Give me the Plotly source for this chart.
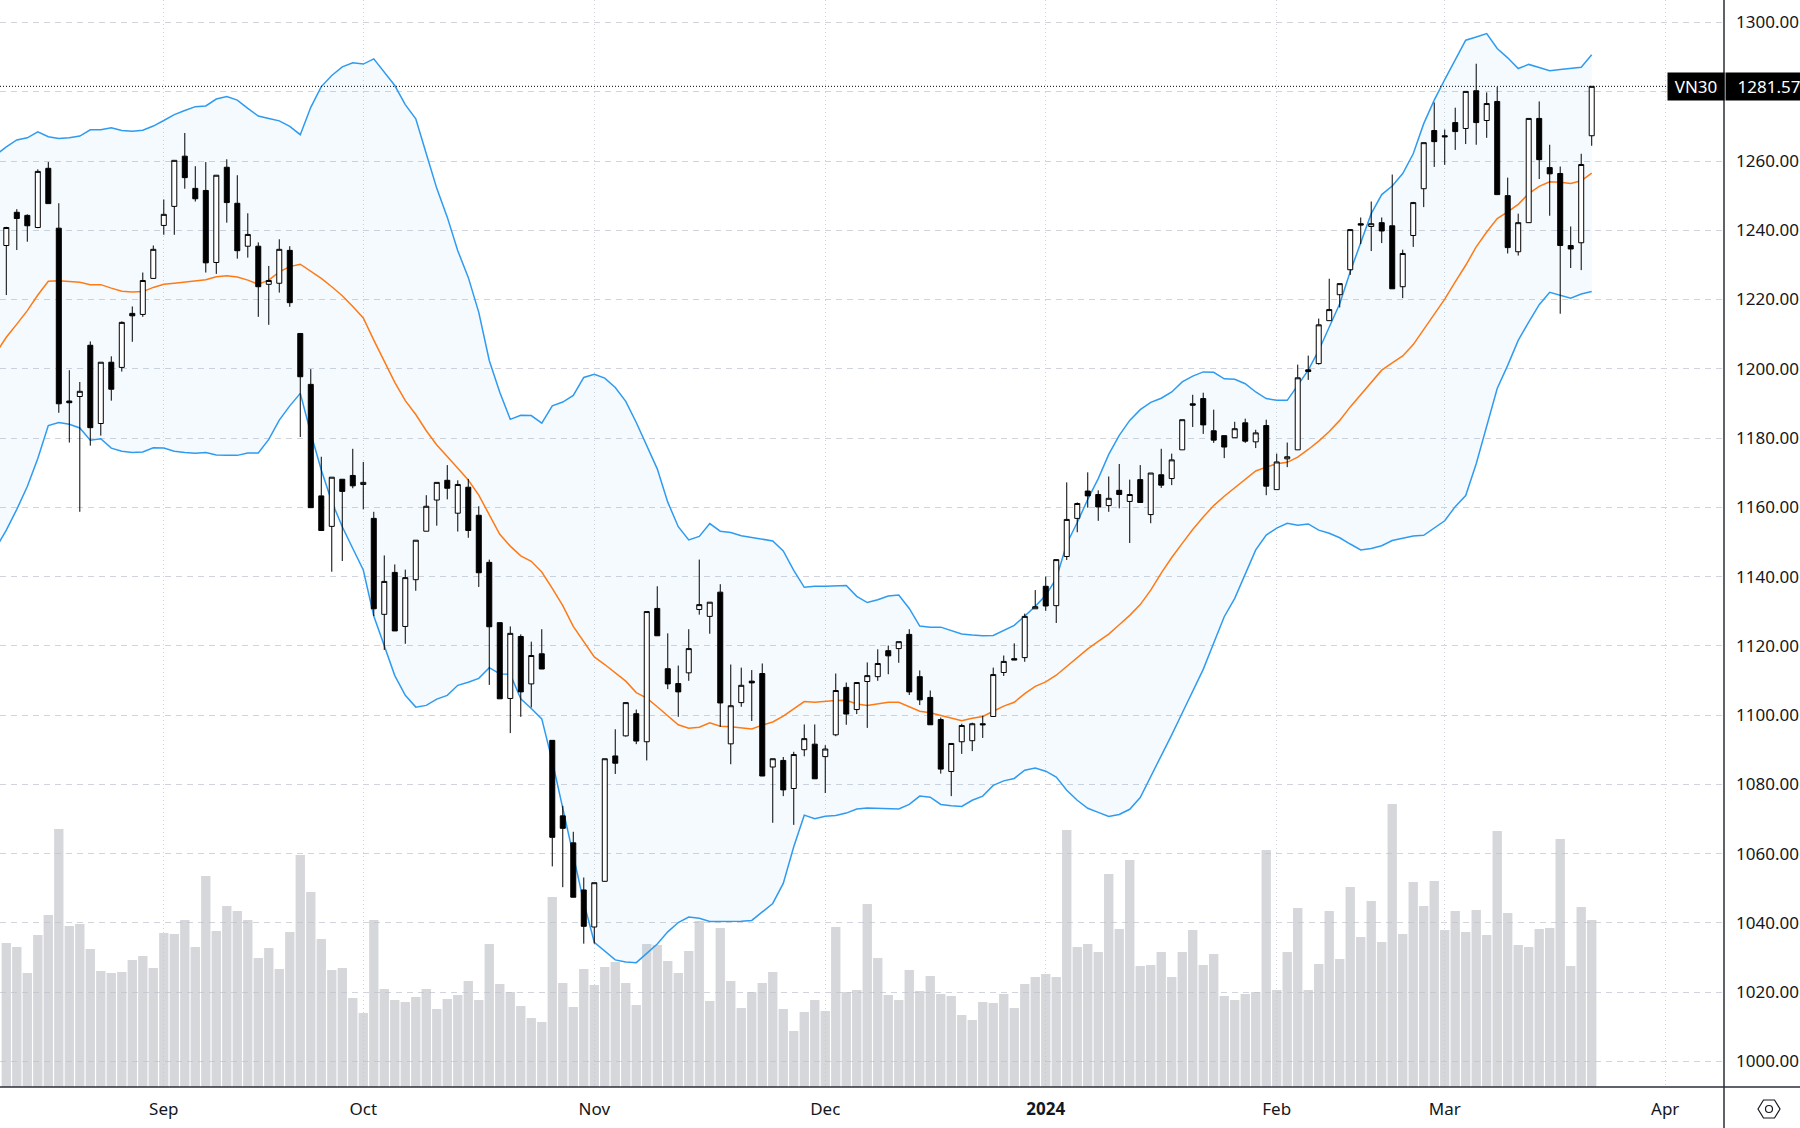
import plotly.graph_objects as go

# VN30 daily candles, Aug 2023 - Mar 2024
opens = [
    1235.6, 1245.2, 1244.3, 1240.8, 1257.9, 1240.6, 1190.7, 1192.0, 1206.8, 1184.2,
    1201.9, 1200.4, 1216.0, 1215.7, 1226.1, 1241.4, 1246.9, 1261.4, 1252.1, 1251.5,
    1230.7, 1258.2, 1247.8, 1235.4, 1235.4, 1224.4, 1224.7, 1234.2, 1210.2, 1195.5,
    1163.3, 1154.5, 1168.1, 1169.2, 1166.6, 1156.8, 1129.1, 1141.2, 1125.6, 1139.1,
    1153.1, 1162.1, 1167.8, 1158.3, 1165.8, 1157.7, 1144.1, 1126.7, 1104.8, 1122.7,
    1109.0, 1117.7, 1092.7, 1070.9, 1063.1, 1049.5, 1038.8, 1052.0, 1088.2, 1094.0,
    1100.4, 1092.3, 1130.8, 1113.4, 1109.1, 1112.2, 1130.5, 1128.5, 1135.5, 1091.7,
    1103.6, 1109.8, 1112.0, 1085.0, 1086.9, 1078.8, 1090.0, 1091.6, 1088.0, 1094.3,
    1108.0, 1101.6, 1109.7, 1111.1, 1118.6, 1119.2, 1123.3, 1111.1, 1105.1, 1098.7,
    1083.7, 1092.3, 1092.6, 1097.5, 1099.6, 1112.3, 1116.3, 1116.6, 1130.7, 1137.2,
    1131.6, 1145.8, 1156.8, 1164.7, 1163.7, 1160.5, 1164.9, 1161.7, 1168.0, 1157.9,
    1169.4, 1168.3, 1176.6, 1189.9, 1191.4, 1182.1, 1180.7, 1180.1, 1184.4, 1178.9,
    1183.6, 1165.1, 1174.0, 1176.6, 1199.7, 1201.5, 1213.9, 1221.4, 1228.6, 1241.9,
    1241.1, 1242.2, 1241.3, 1223.7, 1238.5, 1252.0, 1268.8, 1267.3, 1271.1, 1269.4,
    1280.3, 1271.7, 1277.2, 1250.0, 1233.8, 1242.2, 1272.3, 1258.1, 1256.4, 1235.6,
    1236.4, 1267.3,
]
highs = [
    1241.0, 1246.1, 1244.6, 1257.6, 1259.7, 1247.8, 1199.6, 1196.2, 1207.9, 1201.9,
    1203.6, 1213.7, 1218.0, 1227.8, 1235.6, 1248.9, 1260.2, 1268.1, 1258.5, 1259.7,
    1255.9, 1260.5, 1255.9, 1244.9, 1236.5, 1229.7, 1237.4, 1235.4, 1210.2, 1199.9,
    1174.6, 1168.7, 1168.1, 1176.9, 1173.1, 1158.7, 1146.1, 1143.5, 1142.0, 1150.5,
    1163.5, 1167.2, 1172.2, 1167.8, 1168.2, 1160.3, 1144.9, 1126.7, 1125.6, 1123.3,
    1121.2, 1124.8, 1092.7, 1073.8, 1066.3, 1053.1, 1051.6, 1087.4, 1095.9, 1103.7,
    1101.6, 1129.9, 1137.2, 1123.6, 1114.3, 1124.8, 1144.9, 1132.6, 1137.8, 1114.6,
    1113.7, 1113.0, 1114.9, 1087.4, 1087.9, 1089.4, 1097.3, 1097.3, 1091.3, 1112.0,
    1109.4, 1109.4, 1115.2, 1119.0, 1120.1, 1121.2, 1124.8, 1112.9, 1107.1, 1099.3,
    1091.8, 1097.5, 1097.8, 1099.8, 1113.7, 1117.2, 1120.7, 1129.3, 1136.1, 1140.0,
    1144.9, 1167.2, 1161.4, 1170.1, 1164.9, 1168.9, 1172.5, 1168.0, 1172.2, 1169.9,
    1176.9, 1175.5, 1185.3, 1192.5, 1193.1, 1188.2, 1180.7, 1184.7, 1185.6, 1182.4,
    1185.3, 1175.5, 1178.7, 1201.2, 1203.8, 1214.5, 1226.0, 1224.6, 1240.2, 1243.7,
    1248.3, 1243.7, 1256.1, 1234.4, 1248.2, 1265.3, 1276.9, 1269.1, 1275.4, 1280.1,
    1288.1, 1279.8, 1281.4, 1255.2, 1244.8, 1272.3, 1277.2, 1264.7, 1258.4, 1241.1,
    1262.1, 1281.57,
]
lows = [
    1221.3, 1234.3, 1236.7, 1240.6, 1247.7, 1187.3, 1178.7, 1158.7, 1177.8, 1180.7,
    1190.8, 1199.2, 1207.8, 1215.0, 1226.1, 1238.7, 1238.7, 1252.0, 1248.3, 1227.8,
    1227.4, 1242.2, 1231.8, 1232.1, 1215.0, 1212.7, 1222.0, 1217.9, 1180.3, 1159.9,
    1153.3, 1141.4, 1144.5, 1165.5, 1159.4, 1128.6, 1118.8, 1124.3, 1120.6, 1135.9,
    1153.1, 1154.7, 1162.3, 1153.0, 1151.2, 1137.0, 1108.7, 1104.7, 1094.8, 1099.5,
    1102.2, 1113.3, 1056.3, 1050.3, 1047.4, 1034.0, 1034.0, 1051.9, 1083.0, 1093.8,
    1091.6, 1086.9, 1122.9, 1107.5, 1099.5, 1109.9, 1129.0, 1123.5, 1096.6, 1085.8,
    1102.4, 1098.3, 1082.4, 1068.9, 1076.6, 1068.3, 1088.1, 1081.6, 1077.5, 1093.9,
    1097.2, 1100.3, 1096.3, 1109.9, 1111.8, 1115.1, 1105.8, 1102.9, 1097.2, 1083.1,
    1076.6, 1088.8, 1089.6, 1093.4, 1099.6, 1111.3, 1115.9, 1115.4, 1130.7, 1130.1,
    1126.6, 1144.8, 1152.8, 1159.9, 1156.1, 1158.7, 1159.7, 1149.7, 1161.4, 1155.4,
    1165.6, 1166.4, 1176.6, 1183.2, 1181.2, 1178.6, 1174.2, 1180.1, 1178.6, 1177.1,
    1163.5, 1165.1, 1171.6, 1176.6, 1196.8, 1201.2, 1213.9, 1217.7, 1227.1, 1236.0,
    1234.0, 1236.3, 1223.1, 1220.4, 1235.2, 1246.7, 1258.3, 1258.9, 1263.2, 1264.9,
    1264.7, 1266.7, 1250.3, 1233.3, 1232.7, 1242.2, 1254.8, 1244.2, 1215.9, 1229.1,
    1228.5, 1264.4,
]
closes = [
    1240.8, 1243.4, 1241.3, 1257.0, 1247.7, 1189.9, 1190.2, 1193.5, 1183.0, 1201.9,
    1194.1, 1213.4, 1215.3, 1225.5, 1234.5, 1244.6, 1260.2, 1255.2, 1249.1, 1230.6,
    1255.9, 1248.0, 1234.1, 1238.8, 1223.7, 1225.5, 1234.5, 1219.1, 1197.7, 1159.9,
    1153.3, 1168.7, 1164.6, 1166.2, 1167.2, 1130.7, 1138.6, 1124.3, 1139.7, 1150.5,
    1160.3, 1167.2, 1165.5, 1166.6, 1153.3, 1141.1, 1125.5, 1104.7, 1123.6, 1106.7,
    1117.2, 1113.3, 1064.7, 1067.3, 1047.4, 1039.0, 1051.6, 1087.4, 1086.1, 1103.6,
    1092.5, 1129.9, 1122.9, 1109.0, 1106.7, 1119.2, 1131.9, 1132.6, 1103.5, 1102.7,
    1108.6, 1109.3, 1082.4, 1087.4, 1078.4, 1088.6, 1093.2, 1081.6, 1090.2, 1107.1,
    1100.3, 1109.4, 1111.4, 1114.9, 1117.1, 1121.2, 1106.7, 1104.4, 1097.2, 1084.4,
    1091.8, 1097.0, 1097.5, 1097.2, 1111.7, 1115.5, 1115.9, 1128.5, 1131.3, 1131.5,
    1144.9, 1156.5, 1161.1, 1163.3, 1160.1, 1162.6, 1163.7, 1163.7, 1161.4, 1169.9,
    1166.4, 1173.7, 1185.3, 1189.5, 1183.8, 1179.4, 1177.4, 1182.7, 1179.1, 1181.5,
    1166.1, 1173.1, 1174.6, 1197.4, 1199.2, 1212.7, 1217.1, 1224.6, 1240.2, 1241.5,
    1241.9, 1239.8, 1223.1, 1233.3, 1248.0, 1265.3, 1265.6, 1267.0, 1268.5, 1280.1,
    1271.1, 1276.6, 1250.3, 1235.0, 1242.2, 1272.3, 1260.4, 1256.3, 1235.6, 1234.6,
    1259.0, 1281.57,
]
# no scale on the chart for volume, these are relative
volumes = [
    144, 140, 114, 152, 172, 258, 161, 163, 138, 116,
    114, 115, 127, 131, 119, 154, 153, 167, 140, 211,
    156, 181, 176, 167, 129, 139, 118, 155, 232, 195,
    148, 117, 119, 89, 74, 167, 98, 87, 85, 90,
    98, 78, 88, 92, 106, 87, 143, 103, 95, 81,
    69, 65, 190, 104, 80, 118, 102, 120, 125, 104,
    82, 143, 142, 126, 114, 136, 166, 86, 159, 106,
    79, 95, 104, 115, 78, 56, 75, 87, 76, 160,
    95, 97, 183, 129, 92, 87, 117, 96, 111, 93,
    91, 72, 67, 85, 84, 93, 79, 103, 110, 113,
    110, 257, 140, 143, 135, 213, 158, 227, 121, 122,
    135, 110, 135, 157, 122, 133, 91, 87, 93, 95,
    237, 97, 135, 179, 97, 123, 176, 128, 200, 150,
    186, 145, 283, 153, 205, 181, 206, 157, 176, 155,
    177, 152, 256, 174, 142, 140, 158, 159, 248, 121,
    180, 167,
]

# bollinger bands, these start one session before the first visible candle
band_upper = [
    1261.7, 1264.1, 1266.1, 1266.7, 1268.4, 1267.0, 1266.5, 1266.7, 1267.2, 1269.0,
    1269.0, 1269.6, 1268.8, 1268.6, 1268.9, 1270.1, 1271.7, 1273.4, 1274.6, 1275.7,
    1275.9, 1277.9, 1278.6, 1277.6, 1275.2, 1273.0, 1272.3, 1271.6, 1270.0, 1267.6,
    1275.5, 1281.5, 1284.7, 1287.2, 1288.4, 1288.0, 1289.5, 1285.6, 1281.8, 1276.3,
    1272.2, 1262.1, 1252.1, 1243.8, 1234.1, 1226.4, 1216.3, 1202.4, 1193.2, 1185.4,
    1186.6, 1186.5, 1184.3, 1189.3, 1190.4, 1192.3, 1197.5, 1198.4, 1197.3, 1194.6,
    1190.6, 1184.5, 1177.8, 1171.1, 1161.5, 1154.4, 1150.6, 1151.6, 1155.3, 1153.1,
    1152.7, 1151.8, 1151.3, 1150.8, 1150.3, 1147.4, 1141.8, 1136.9, 1137.2, 1137.2,
    1137.3, 1137.4, 1134.3, 1132.5, 1133.3, 1134.4, 1134.7, 1130.8, 1125.7, 1125.4,
    1125.4, 1124.3, 1123.4, 1123.1, 1122.9, 1123.0, 1124.5, 1125.9, 1128.6, 1131.4,
    1134.6, 1139.4, 1149.5, 1155.6, 1162.3, 1168.3, 1175.3, 1180.8, 1185.1, 1188.2,
    1190.3, 1191.5, 1193.3, 1196.2, 1197.9, 1199.1, 1199.0, 1197.1, 1197.0, 1195.7,
    1193.3, 1191.4, 1190.9, 1190.9, 1195.2, 1199.6, 1205.3, 1212.1, 1218.8, 1228.0,
    1236.6, 1244.8, 1250.3, 1252.8, 1256.4, 1262.1, 1270.8, 1277.6, 1283.5, 1289.1,
    1294.9, 1295.8, 1296.8, 1292.5, 1289.8, 1286.7, 1287.9, 1287.0, 1286.1, 1286.4,
    1286.7, 1287.1, 1290.7,
]
band_mid = [
    1204.5, 1209.1, 1212.9, 1216.8, 1221.3, 1225.3, 1225.4, 1225.3, 1225.0, 1224.3,
    1224.3, 1223.3, 1222.4, 1222.2, 1222.3, 1223.5, 1224.4, 1224.7, 1225.0, 1225.5,
    1225.7, 1226.6, 1226.9, 1226.5, 1225.6, 1224.4, 1225.6, 1228.0, 1229.5, 1230.2,
    1228.1, 1226.1, 1223.7, 1221.1, 1218.0, 1214.7, 1208.3, 1202.4, 1196.1, 1190.8,
    1186.8, 1182.1, 1178.0, 1174.7, 1171.2, 1167.9, 1163.5, 1158.0, 1152.2, 1148.8,
    1146.0, 1144.4, 1141.3, 1136.6, 1131.6, 1125.6, 1121.1, 1116.8, 1114.6, 1112.1,
    1109.8, 1106.5, 1104.9, 1102.4, 1099.7, 1097.2, 1096.2, 1096.5, 1097.8, 1096.8,
    1096.6, 1096.2, 1096.0, 1097.1, 1098.0, 1099.7, 1101.9, 1103.9, 1103.7, 1104.0,
    1104.2, 1104.3, 1103.2, 1102.8, 1103.2, 1103.7, 1103.7, 1102.4, 1101.1, 1100.7,
    1099.9, 1099.1, 1098.4, 1099.1, 1099.6, 1101.1, 1102.6, 1103.7, 1106.2, 1108.3,
    1109.6, 1111.5, 1114.1, 1116.6, 1119.1, 1121.3, 1123.4, 1126.1, 1128.8, 1131.9,
    1136.1, 1141.0, 1145.5, 1149.6, 1153.6, 1157.2, 1160.5, 1163.2, 1165.7, 1168.2,
    1170.5, 1171.6, 1172.6, 1173.0, 1174.5, 1176.7, 1179.1, 1181.9, 1185.1, 1189.0,
    1192.5, 1196.2, 1199.6, 1201.7, 1203.7, 1207.0, 1211.3, 1215.9, 1220.1, 1225.1,
    1229.9, 1235.2, 1239.5, 1243.4, 1245.3, 1247.5, 1250.6, 1252.7, 1254.0, 1253.9,
    1253.5, 1254.3, 1256.5,
]
band_lower = [
    1148.2, 1153.4, 1159.4, 1166.0, 1174.1, 1183.6, 1184.5, 1184.0, 1182.9, 1179.4,
    1179.8, 1177.1, 1176.2, 1175.8, 1176.0, 1177.2, 1177.1, 1176.2, 1175.8, 1175.6,
    1175.8, 1175.1, 1175.0, 1175.0, 1175.7, 1175.7, 1179.6, 1185.2, 1189.3, 1192.9,
    1181.4, 1170.8, 1161.6, 1154.4, 1148.1, 1141.9, 1128.6, 1120.1, 1111.4, 1105.7,
    1102.3, 1102.8, 1104.6, 1105.7, 1108.6, 1109.5, 1110.6, 1113.7, 1111.9, 1111.8,
    1104.7, 1101.9, 1098.9, 1086.7, 1072.8, 1059.8, 1045.9, 1034.4, 1031.9, 1029.3,
    1028.7, 1028.5, 1031.2, 1033.9, 1037.4, 1040.1, 1041.7, 1041.3, 1040.4, 1040.4,
    1040.5, 1040.5, 1040.7, 1043.1, 1045.6, 1051.4, 1062.0, 1071.1, 1070.1, 1070.8,
    1071.0, 1071.7, 1072.9, 1073.2, 1073.1, 1073.0, 1072.9, 1074.2, 1076.6, 1076.3,
    1074.2, 1073.8, 1073.6, 1075.4, 1076.6, 1079.7, 1081.0, 1081.7, 1084.1, 1084.7,
    1083.8, 1082.1, 1078.3, 1075.4, 1073.1, 1071.9, 1070.7, 1071.3, 1072.8, 1076.2,
    1082.1, 1088.4, 1094.3, 1100.6, 1106.9, 1113.2, 1120.8, 1128.4, 1133.7, 1140.7,
    1147.7, 1152.0, 1154.0, 1155.4, 1154.8, 1155.2, 1153.4, 1152.5, 1151.2, 1149.4,
    1147.7, 1148.1, 1148.9, 1150.4, 1151.0, 1151.7, 1151.9, 1153.9, 1156.1, 1160.2,
    1163.4, 1172.6, 1183.2, 1194.3, 1201.0, 1208.2, 1213.5, 1218.5, 1222.1, 1221.3,
    1220.4, 1221.6, 1222.3,
]

month_ticks = [15, 34, 56, 78, 99, 121, 137, 158]
month_labels = ['Sep', 'Oct', 'Nov', 'Dec', '<b>2024</b>', 'Feb', 'Mar', 'Apr']
price_ticks = [1000, 1020, 1040, 1060, 1080, 1100, 1120, 1140, 1160, 1180, 1200,
               1220, 1240, 1260, 1280, 1300]
# 1280 label sits under the last price tag on the original
price_labels = ['' if p == 1280 else f'{p}.00' for p in price_ticks]
last_price = 1281.57

FONT = 'Noto Sans'
GRID = '#d1d4dc'
AXIS = '#2a2e39'
W, H = 1800, 1128
PLOT_W, PLOT_H = 1724, 1087
PRICE_RANGE = [992.6, 1306.5]

sessions = list(range(len(closes)))
band_x = list(range(-1, len(closes)))


# pixel position to paper coordinates, only for the frame and the icon
def px(x):
    return x / PLOT_W


def py(y):
    return 1 - y / PLOT_H


fig = go.Figure()

fig.add_trace(go.Bar(
    x=sessions, y=volumes, yaxis='y',
    marker=dict(color='rgba(192,194,200,0.65)', line_width=0),
    showlegend=False,
))

fig.add_trace(go.Scatter(
    x=band_x, y=band_lower, yaxis='y2', mode='lines',
    line=dict(color='#2f9bf0', width=1.5), showlegend=False,
))
fig.add_trace(go.Scatter(
    x=band_x, y=band_upper, yaxis='y2', mode='lines',
    line=dict(color='#2f9bf0', width=1.5),
    fill='tonexty', fillcolor='rgba(33,150,243,0.05)', showlegend=False,
))
fig.add_trace(go.Scatter(
    x=band_x, y=band_mid, yaxis='y2', mode='lines',
    line=dict(color='#ff7a14', width=1.5), showlegend=False,
))

# candles on their own overlay axis, otherwise the lines get drawn over them
fig.add_trace(go.Candlestick(
    x=sessions, open=opens, high=highs, low=lows, close=closes, yaxis='y3',
    increasing=dict(line=dict(color='#000000', width=1), fillcolor='#ffffff'),
    decreasing=dict(line=dict(color='#000000', width=1), fillcolor='#000000'),
    whiskerwidth=0, showlegend=False,
))

frame = dict(type='line', xref='paper', yref='paper', line=dict(color=AXIS, width=1.5))
hex_x = [1758, 1763.5, 1774.5, 1780, 1774.5, 1763.5]
hex_y = [1109, 1100, 1100, 1109, 1118, 1118]
hex_path = 'M' + ' L'.join(f'{px(a)},{py(b)}' for a, b in zip(hex_x, hex_y)) + ' Z'

fig.update_layout(
    width=W, height=H,
    margin=dict(l=0, r=W - PLOT_W, t=0, b=H - PLOT_H, pad=0),
    paper_bgcolor='#ffffff', plot_bgcolor='#ffffff',
    font=dict(family=FONT, size=17, color='#131722'),
    bargap=0.11, boxgap=0.32,
    hovermode=False,
    xaxis=dict(
        range=[-0.6, 163.6], tickvals=month_ticks, ticktext=month_labels,
        showgrid=True, gridcolor=GRID, griddash='1px,3px', gridwidth=1,
        zeroline=False, showline=False, ticks='', rangeslider=dict(visible=False),
        ticklabelstandoff=10,
        tickfont=dict(family=FONT, size=17, color='#131722'),
    ),
    yaxis=dict(range=[0, PLOT_H], visible=False, showgrid=False, zeroline=False),
    yaxis2=dict(
        overlaying='y', side='right', range=PRICE_RANGE,
        tickvals=price_ticks, ticktext=price_labels, ticklabelstandoff=11,
        showgrid=True, gridcolor=GRID, griddash='6px,5px', gridwidth=1,
        zeroline=False, showline=False, ticks='',
        tickfont=dict(family=FONT, size=17, color='#131722'),
    ),
    yaxis3=dict(overlaying='y', side='right', range=PRICE_RANGE, visible=False,
                showgrid=False, zeroline=False),
    shapes=[
        dict(frame, x0=0, x1=px(W), y0=0, y1=0),
        dict(frame, x0=1, x1=1, y0=py(H), y1=1),
        # last price line
        dict(type='line', xref='paper', yref='y2', x0=0, x1=px(1667),
             y0=last_price, y1=last_price,
             line=dict(color='#000000', width=1, dash='1px,2px')),
        # settings icon in the corner
        dict(type='path', xref='paper', yref='paper', path=hex_path,
             line=dict(color='#131722', width=1.2)),
        dict(type='circle', xref='paper', yref='paper',
             x0=px(1765.5), x1=px(1772.5), y0=py(1112.5), y1=py(1105.5),
             line=dict(color='#131722', width=1.2)),
    ],
    annotations=[
        dict(xref='paper', yref='y2', x=px(1667), y=last_price, text='VN30',
             xanchor='left', yanchor='middle', showarrow=False, align='center',
             width=56, height=27, bgcolor='#000000', borderpad=0,
             font=dict(family=FONT, size=17, color='#ffffff')),
        # box runs off the page so the number sits as far right as the original
        dict(xref='paper', yref='y2', x=px(1725), y=last_price, text=f'{last_price}',
             xanchor='left', yanchor='middle', showarrow=False, align='center',
             width=86, height=27, bgcolor='#000000', borderpad=0,
             font=dict(family=FONT, size=17, color='#ffffff')),
    ],
)

fig.write_html('out.html', config=dict(displayModeBar=False),
               post_script="document.body.style.margin='0';")
